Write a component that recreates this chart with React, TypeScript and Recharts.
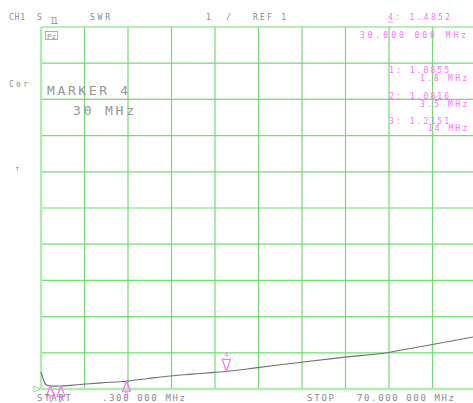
import { ComposedChart, Line, ReferenceDot, ReferenceLine, Scatter, XAxis, YAxis } from "recharts";

// sweep 0.3 .. 70 MHz, 10 divisions; SWR 1 per div from REF 1
const freqTicks = [0.3, 7.27, 14.24, 21.21, 28.18, 35.15, 42.12, 49.09, 56.06, 63.03, 70];
const swrTicks = [1, 2, 3, 4, 5, 6, 7, 8, 9, 10, 11];

const freqMHz = [0.3, 0.5, 0.7, 1.0, 1.3, 1.8, 2.5, 3.5, 5, 7, 10, 14, 17.5, 21, 24.5, 28, 30, 35, 42, 49, 56, 59.5, 63, 66.5, 70];
const swrValues = [1.47, 1.36, 1.25, 1.14, 1.1, 1.0855, 1.08, 1.0816, 1.1, 1.13, 1.17, 1.2151, 1.29, 1.36, 1.41, 1.46, 1.4852, 1.59, 1.74, 1.88, 2.01, 2.12, 2.23, 2.34, 2.45];

const markerIds = [1, 2, 3, 4];
const markerFreq = [1.8, 3.5, 14, 30];
const markerSwr = [1.0855, 1.0816, 1.2151, 1.4852];

const trace = freqMHz.map((f, i) => ({ f, swr: swrValues[i] }));
const markers = markerIds.map((id, i) => ({ id, f: markerFreq[i], swr: markerSwr[i] }));

const GRID = "#74db74";
const BORDER = "#b2eab2";
const MAG = "#ff6cff";
const GRAY = "#8a8a8a";
const MONO = "'DejaVu Sans Mono', monospace";

function MarkerShape(props: any) {
  const { cx, cy, payload } = props;
  if (payload.id === 4) {
    return (
      <g>
        <polygon points={`${cx},${cy} ${cx - 4},${cy - 12} ${cx + 4},${cy - 12}`} fill="none" stroke={MAG} strokeWidth={1.2} />
        <text x={cx} y={cy - 14} fontSize={7} fill={MAG} textAnchor="middle" fontFamily={MONO}>
          4
        </text>
      </g>
    );
  }
  return (
    <g>
      <polygon points={`${cx},${cy} ${cx - 4},${cy + 10} ${cx + 4},${cy + 10}`} fill="none" stroke={MAG} strokeWidth={1.2} />
      <text x={cx} y={cy + 16} fontSize={7} fill={MAG} textAnchor="middle" fontFamily={MONO}>
        {payload.id}
      </text>
    </g>
  );
}

function RefArrow(props: any) {
  const { cx, cy } = props;
  return <polygon points={`${cx - 7},${cy - 3} ${cx - 1},${cy} ${cx - 7},${cy + 3}`} fill="none" stroke="#8fe08f" strokeWidth={1} />;
}

function T({ x, y, w, s = 8, c = GRAY, children }: any) {
  return (
    <text x={x} y={y} fontSize={s} fill={c} fontFamily={MONO} textLength={w} lengthAdjust="spacing">
      {children}
    </text>
  );
}

export default function App() {
  return (
    <div style={{ position: "absolute", left: 0, top: 0, width: 473, height: 403, overflow: "hidden", background: "#fff" }}>
      <ComposedChart width={480} height={403} margin={{ top: 27, right: 4, left: 41, bottom: 14 }}>
        <XAxis dataKey="f" type="number" domain={[0.3, 70]} ticks={freqTicks} hide />
        <YAxis type="number" domain={[1, 11]} ticks={swrTicks} hide />
        {freqTicks.slice(1).map((t) => (
          <ReferenceLine key={"v" + t} x={t} stroke={GRID} strokeWidth={1.2} />
        ))}
        {swrTicks.slice(1).map((t) => (
          <ReferenceLine key={"h" + t} y={t} stroke={GRID} strokeWidth={1.2} />
        ))}
        <ReferenceLine x={0.3} stroke={BORDER} strokeWidth={2.4} />
        <ReferenceLine y={1} stroke={BORDER} strokeWidth={2.4} />
        <ReferenceDot x={0.3} y={1} r={3} shape={RefArrow} />
        <Line data={trace} dataKey="swr" type="monotone" stroke="#707070" strokeWidth={1.1} dot={false} isAnimationActive={false} />
        <Scatter data={markers} dataKey="swr" shape={MarkerShape} isAnimationActive={false} />
      </ComposedChart>
      <svg width={473} height={403} style={{ position: "absolute", left: 0, top: 0, pointerEvents: "none" }}>
        <T x={9} y={20} w={16}>CH1</T>
        <T x={37} y={20}>S</T>
        <T x={50} y={24} w={8}>11</T>
        <T x={90} y={20} w={20}>SWR</T>
        <T x={206} y={20}>1</T>
        <T x={226} y={20}>/</T>
        <T x={253} y={20} w={33}>REF 1</T>
        <T x={9} y={87} w={19}>Cor</T>
        <T x={15} y={171}>↑</T>
        <rect x={45.5} y={31.5} width={12} height={8} fill="none" stroke="#999" strokeWidth={0.8} />
        <T x={47} y={38.5} w={9} s={7}>Pz</T>

        <T x={388} y={20} w={62} c={MAG}>4: 1.4852</T>
        <line x1={388} y1={22} x2={393} y2={22} stroke={MAG} strokeWidth={0.8} />
        <T x={360} y={38} w={106} c={MAG}>30.000 000 MHz</T>
        <T x={389} y={73} w={60} c={MAG}>1: 1.0855</T>
        <T x={420} y={81} w={47} c={MAG}>1.8 MHz</T>
        <T x={389} y={99} w={60} c={MAG}>2: 1.0816</T>
        <T x={420} y={107} w={47} c={MAG}>3.5 MHz</T>
        <T x={389} y={124} w={60} c={MAG}>3: 1.2151</T>
        <T x={428} y={131} w={39} c={MAG}>14 MHz</T>

        <T x={47} y={95} w={81} s={13} c="#959595">MARKER 4</T>
        <T x={73} y={115} w={61} s={13} c="#959595">30 MHz</T>

        <T x={37} y={401} w={34} s={9}>START</T>
        <T x={102} y={401} w={83} s={9}>.300 000 MHz</T>
        <T x={307} y={401} w={27} s={9}>STOP</T>
        <T x={357} y={401} w={97} s={9}>70.000 000 MHz</T>
      </svg>
    </div>
  );
}
